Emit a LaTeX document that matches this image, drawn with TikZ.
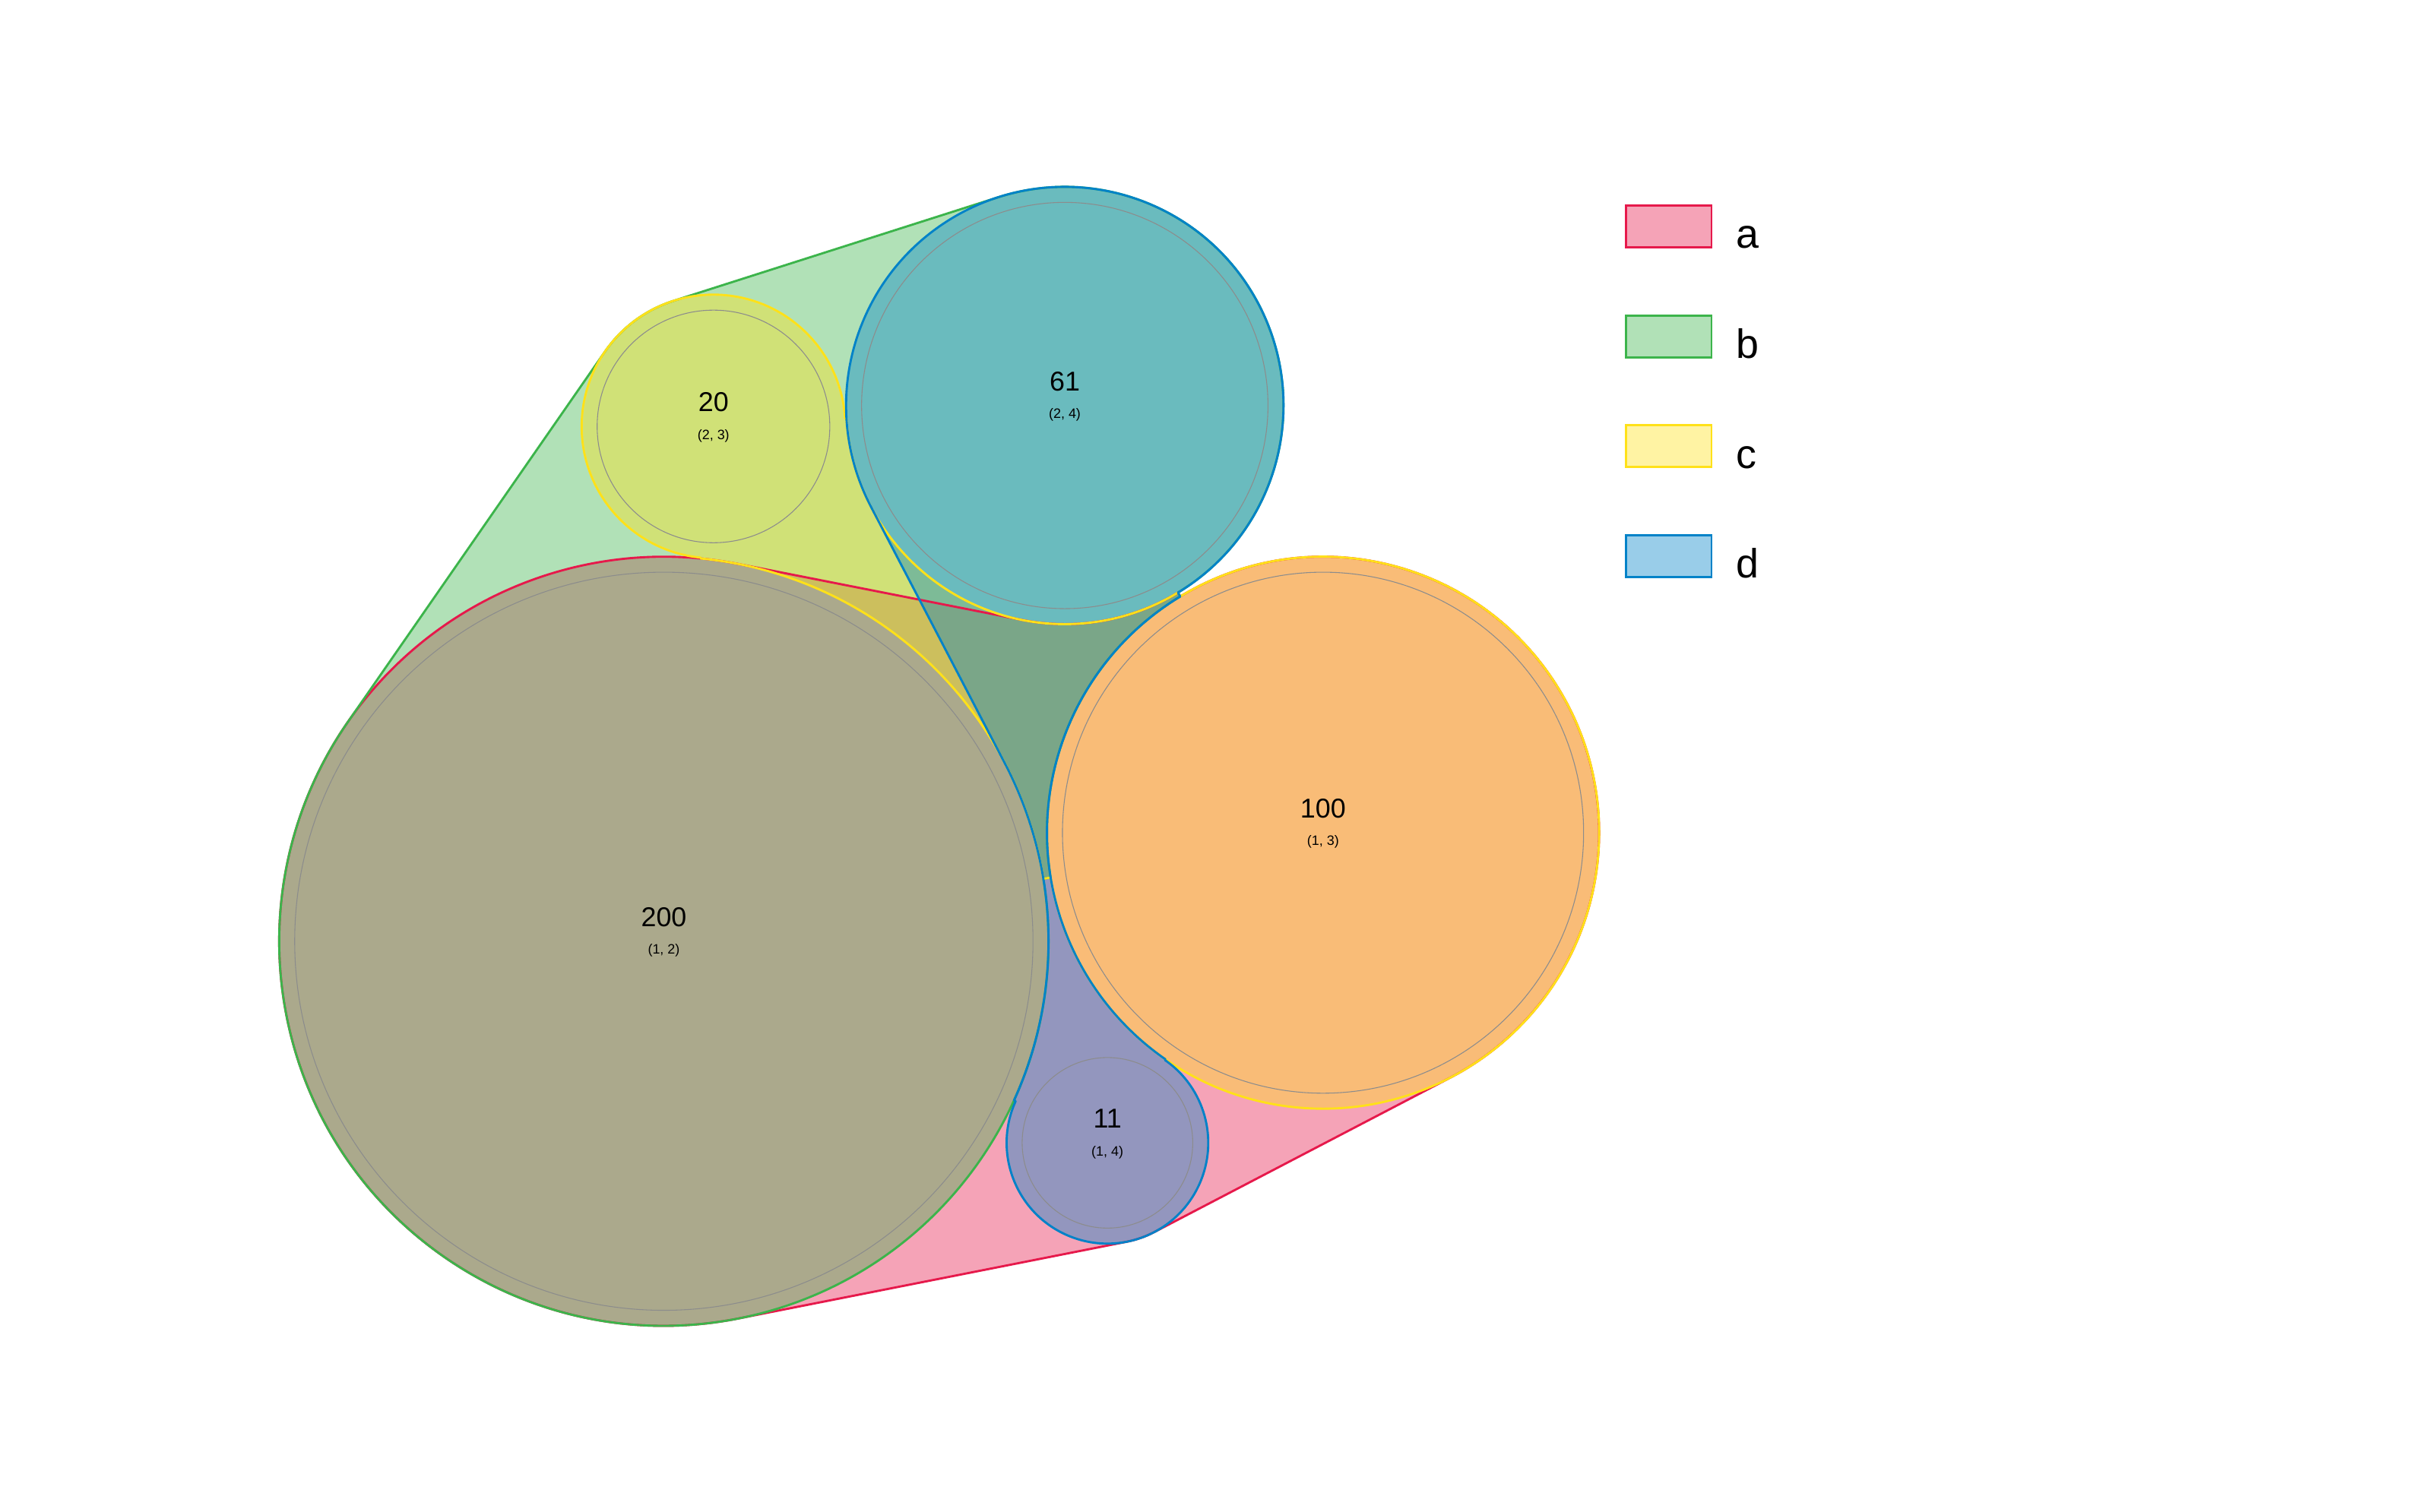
\documentclass[tikz,border=0pt]{standalone}
\usepackage{fontspec}
\setmainfont{Liberation Sans}
\usetikzlibrary{calc,positioning}
\definecolor{seta}{RGB}{230,25,75}
\definecolor{setb}{RGB}{60,180,75}
\definecolor{setc}{RGB}{255,225,25}
\definecolor{setd}{RGB}{0,130,200}
\definecolor{ringgray}{RGB}{140,140,140}
\tikzset{
  hull/.style  ={fill opacity=0.4, draw=none},
  rim/.style   ={line width=0.8pt, line join=round},
  ring/.style  ={draw=ringgray, line width=0.3pt},
  count/.style ={font=\fontsize{10}{12}\selectfont, inner sep=0pt},
  pair/.style  ={font=\fontsize{5}{6}\selectfont, inner sep=0pt},
  keybox/.style={rectangle, line width=0.8pt, minimum width=1.1cm,
                 minimum height=0.54cm, inner sep=0pt},
  keylbl/.style={font=\fontsize{15}{18}\selectfont, anchor=base west, inner sep=0pt}
}
% set outlines: circles of a set joined, bridges hug the other circles
\newcommand{\hulla}{($(ab)+(281.16:248)$) -- ($(bd)+(101.16:141)$)
  arc[start angle=101.16, end angle=58.85, radius=141] -- ($(ac)+(238.85:178)$)
  arc[start angle=238.85, end angle=422.44, radius=178] -- ($(ad)+(62.44:65)$)
  arc[start angle=62.44, end angle=78.82, radius=65] -- ($(ab)+(78.82:248)$)
  arc[start angle=78.82, end angle=281.16, radius=248] -- cycle}
\newcommand{\hullb}{($(ab)+(214.77:248)$) -- ($(bc)+(214.77:85)$)
  arc[start angle=214.77, end angle=252.30, radius=85] -- ($(bd)+(252.30:141)$)
  arc[start angle=252.30, end angle=418.85, radius=141] -- ($(ac)+(238.85:178)$)
  arc[start angle=238.85, end angle=170.65, radius=178] -- ($(ab)+(-9.35:248)$)
  arc[start angle=-9.35, end angle=214.77, radius=248] -- cycle}
\newcommand{\hullc}{($(bc)+(95.51:85)$)
  arc[start angle=95.51, end angle=356.59, radius=85] -- ($(bd)+(176.59:141)$)
  arc[start angle=176.59, end angle=58.85, radius=141] -- ($(ac)+(238.85:178)$)
  arc[start angle=238.85, end angle=530.65, radius=178] -- ($(ab)+(350.65:248)$)
  arc[start angle=350.65, end angle=275.51, radius=248] -- cycle}
\newcommand{\hulld}{($(bd)+(152.46:141)$) -- ($(ab)+(332.46:248)$)
  arc[start angle=332.46, end angle=384.44, radius=248] -- ($(ad)+(204.44:65)$)
  arc[start angle=204.44, end angle=-55.2, radius=65] -- ($(ac)+(124.8:178)$)
  arc[start angle=124.8, end angle=238.85, radius=178] -- ($(bd)+(58.85:141)$)
  arc[start angle=58.85, end angle=-207.54, radius=141] -- cycle}
\begin{document}
\begin{tikzpicture}[x=0.02cm, y=-0.02cm]
\useasboundingbox (0,0) rectangle (1568,975);
\coordinate (ab) at (428,607);
\coordinate (ac) at (853,537);
\coordinate (bc) at (460,275);
\coordinate (bd) at (686.5,261.5);
\coordinate (ad) at (714,737);
\fill[hull, seta] \hulla;
\fill[hull, setb] \hullb;
\fill[hull, setc] \hullc;
\fill[hull, setd] \hulld;
\draw[ring] (ab) circle[radius=238];
\draw[ring] (ac) circle[radius=168];
\draw[ring] (bc) circle[radius=75];
\draw[ring] (bd) circle[radius=131];
\draw[ring] (ad) circle[radius=55];
\draw[rim, seta] \hulla;
\draw[rim, setb] \hullb;
\draw[rim, setc] \hullc;
\draw[rim, setd] \hulld;
\node[count] (numab) at ($(ab)+(0,-15.5)$) {200};
\node[pair]  (subab) at ($(ab)+(0,6)$) {(1, 2)};
\node[count] (numac) at ($(ac)+(0,-15.5)$) {100};
\node[pair]  (subac) at ($(ac)+(0,6)$) {(1, 3)};
\node[count] (numbc) at ($(bc)+(0,-15.5)$) {20};
\node[pair]  (subbc) at ($(bc)+(0,6)$) {(2, 3)};
\node[count] (numbd) at ($(bd)+(0,-15.5)$) {61};
\node[pair]  (subbd) at ($(bd)+(0,6)$) {(2, 4)};
\node[count] (numad) at ($(ad)+(0,-15.5)$) {11};
\node[pair]  (subad) at ($(ad)+(0,6)$) {(1, 4)};
% legend
\node[keybox, draw=seta, fill=seta!40] (keya) at (1076,146) {};
\node[keybox, draw=setb, fill=setb!40, below=0.85cm of keya] (keyb) {};
\node[keybox, draw=setc, fill=setc!40, below=0.85cm of keyb] (keyc) {};
\node[keybox, draw=setd, fill=setd!40, below=0.85cm of keyc] (keyd) {};
\node[keylbl] (laba) at ($(keya.south east)+(15,0)$) {a};
\node[keylbl] (labb) at ($(keyb.south east)+(15,0)$) {b};
\node[keylbl] (labc) at ($(keyc.south east)+(15,0)$) {c};
\node[keylbl] (labd) at ($(keyd.south east)+(15,0)$) {d};
\end{tikzpicture}
\end{document}
